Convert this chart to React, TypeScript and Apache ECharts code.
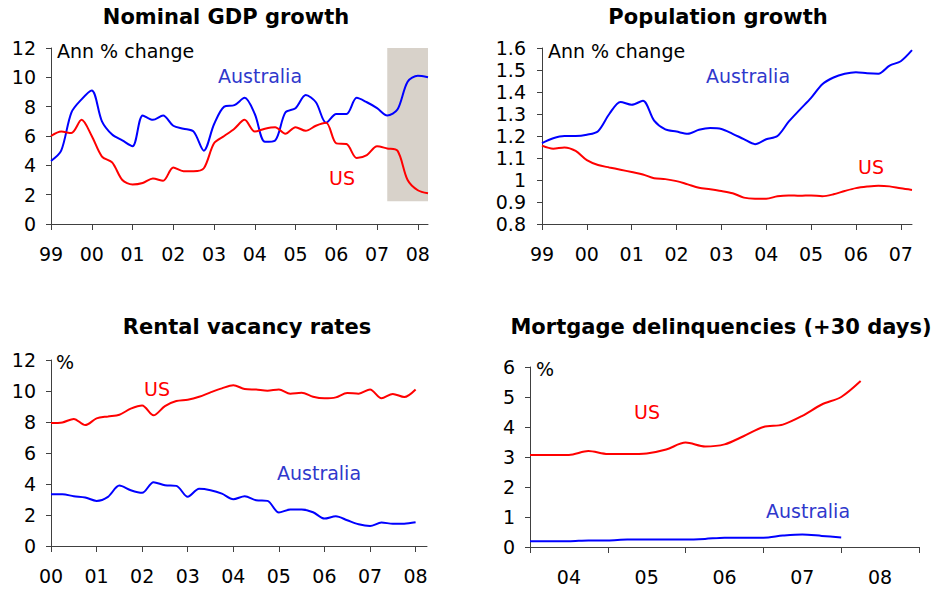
import React, { useEffect, useRef } from "react";
import * as echarts from "echarts";

function quarters(startYear: number, count: number): string[] {
  const out: string[] = [];
  for (let i = 0; i < count; i++) {
    out.push(`${startYear + Math.floor(i / 4)}Q${(i % 4) + 1}`);
  }
  return out;
}

// Categories (quarterly)
const gdpQuarters = quarters(1999, 38); // 1999Q1 .. 2008Q2
const popQuarters = quarters(1999, 34); // 1999Q1 .. 2007Q2
const rentQuarters = quarters(2000, 34); // 2000Q1 .. 2008Q2
const mortQuarters = quarters(2004, 21); // 2004Q1 .. 2009Q1

// Nominal GDP growth, ann % change
const gdpAustralia = [4.3, 5.0, 7.6, 8.5, 9.1, 7.0, 6.1, 5.7, 5.3, 7.4, 7.1, 7.4, 6.7, 6.5, 6.3, 5.0, 6.8, 8.0, 8.1, 8.6, 7.5, 5.6, 5.7, 7.6, 7.9, 8.8, 8.3, 6.9, 7.5, 7.5, 8.6, 8.3, 7.9, 7.4, 7.8, 9.7, 10.1, 10.0];
const gdpUS = [6.0, 6.3, 6.2, 7.1, 6.0, 4.6, 4.2, 3.0, 2.7, 2.8, 3.1, 2.95, 3.85, 3.6, 3.6, 3.8, 5.5, 6.0, 6.5, 7.1, 6.3, 6.5, 6.6, 6.15, 6.6, 6.35, 6.7, 6.9, 5.5, 5.45, 4.5, 4.7, 5.3, 5.15, 5.0, 3.0, 2.3, 2.1];

// Population growth, ann % change
const popAustralia = [1.168, 1.19, 1.2, 1.2, 1.206, 1.222, 1.3, 1.355, 1.342, 1.36, 1.27, 1.23, 1.22, 1.21, 1.228, 1.236, 1.232, 1.21, 1.186, 1.163, 1.185, 1.2, 1.265, 1.32, 1.373, 1.435, 1.466, 1.483, 1.49, 1.485, 1.483, 1.52, 1.54, 1.59];
const popUS = [1.156, 1.142, 1.148, 1.132, 1.09, 1.068, 1.057, 1.047, 1.036, 1.025, 1.008, 1.004, 0.995, 0.98, 0.965, 0.958, 0.95, 0.94, 0.92, 0.915, 0.915, 0.926, 0.93, 0.928, 0.93, 0.926, 0.935, 0.95, 0.963, 0.97, 0.974, 0.971, 0.962, 0.955];

// Rental vacancy rates, %
const rentUS = [7.93, 7.97, 8.2, 7.8, 8.23, 8.36, 8.47, 8.86, 9.07, 8.43, 9.03, 9.35, 9.44, 9.63, 9.91, 10.17, 10.37, 10.13, 10.09, 10.02, 10.1, 9.83, 9.89, 9.63, 9.53, 9.59, 9.87, 9.83, 10.1, 9.53, 9.81, 9.61, 10.1];
const rentAustralia = [3.34, 3.34, 3.21, 3.13, 2.91, 3.17, 3.9, 3.6, 3.43, 4.12, 3.92, 3.88, 3.17, 3.69, 3.6, 3.38, 3.02, 3.21, 2.95, 2.91, 2.16, 2.35, 2.35, 2.18, 1.77, 1.92, 1.66, 1.4, 1.29, 1.51, 1.44, 1.44, 1.53];

// Mortgage delinquencies (+30 days), %
const mortUS = [3.07, 3.07, 3.07, 3.2, 3.1, 3.1, 3.12, 3.25, 3.48, 3.35, 3.42, 3.7, 4.0, 4.08, 4.37, 4.75, 5.0, 5.53];
const mortAustralia = [0.19, 0.19, 0.19, 0.22, 0.22, 0.25, 0.25, 0.25, 0.25, 0.27, 0.31, 0.31, 0.31, 0.38, 0.42, 0.37, 0.32];

// Shaded region on GDP panel
const gdpShade = { from: "2007Q2", to: "2008Q2", low: 1.55, high: 12 };

const FONT = "DejaVu Sans";
const BLUE = "#0000ff";
const RED = "#ff0000";
const LABEL_BLUE = "#2f38cc";
const AXIS = "#404040";

export default function App() {
  const ref = useRef<HTMLDivElement>(null);

  useEffect(() => {
    if (!ref.current) return;
    const chart = echarts.init(ref.current, undefined, { renderer: "svg" });

    const xAxisBase = (idx: number, data: string[], labelMod: number) => ({
      type: "category" as const,
      gridIndex: idx,
      data,
      boundaryGap: false,
      axisLine: { show: true, lineStyle: { color: AXIS, width: 1 } },
      axisTick: {
        show: true,
        length: 6,
        lineStyle: { color: AXIS },
        interval: (i: number) => i % 4 === 0,
      },
      axisLabel: {
        interval: (i: number) => i % 4 === labelMod,
        formatter: (v: string) => v.slice(2, 4),
        fontSize: 19,
        fontFamily: FONT,
        color: "#000",
        margin: 20,
      },
      splitLine: { show: false },
    });

    const yAxisBase = (idx: number, min: number, max: number, interval: number, margin: number) => ({
      type: "value" as const,
      gridIndex: idx,
      min,
      max,
      interval,
      axisLine: { show: true, lineStyle: { color: AXIS, width: 1 } },
      axisTick: { show: true, length: 5, lineStyle: { color: AXIS } },
      axisLabel: { fontSize: 19, fontFamily: FONT, color: "#000", margin },
      splitLine: { show: false },
    });

    const line = (name: string, x: number, data: number[], color: string, extra: any = {}) => ({
      name,
      type: "line" as const,
      xAxisIndex: x,
      yAxisIndex: x,
      data,
      smooth: 0.3,
      showSymbol: false,
      symbol: "none",
      lineStyle: { color, width: 2 },
      itemStyle: { color },
      z: 3,
      ...extra,
    });

    const text = (x: number, y: number, t: string, color: string, extra: any = {}) => ({
      type: "text" as const,
      x,
      y,
      style: {
        text: t,
        fill: color,
        fontSize: 19,
        fontFamily: FONT,
        align: "left",
        verticalAlign: "middle",
        ...extra,
      },
      z: 10,
    });

    const title = (x: number, y: number, t: string) =>
      text(x, y, t, "#000", { fontWeight: "bold", fontSize: 21, align: "center" });

    chart.setOption({
      animation: false,
      backgroundColor: "#ffffff",
      grid: [
        { left: 51, top: 48, width: 377, height: 176 },
        { left: 542, top: 48, width: 370, height: 176 },
        { left: 51, top: 360, width: 376, height: 186 },
        { left: 530, top: 367, width: 389, height: 180 },
      ],
      xAxis: [
        xAxisBase(0, gdpQuarters, 0),
        xAxisBase(1, popQuarters, 0),
        xAxisBase(2, rentQuarters, 0),
        xAxisBase(3, mortQuarters, 2),
      ],
      yAxis: [
        yAxisBase(0, 0, 12, 2, 15),
        yAxisBase(1, 0.8, 1.6, 0.1, 16),
        yAxisBase(2, 0, 12, 2, 15),
        yAxisBase(3, 0, 6, 1, 15),
      ],
      series: [
        line("Australia GDP", 0, gdpAustralia, BLUE, {
          markArea: {
            silent: true,
            z: 1,
            itemStyle: { color: "#d8d2ca" },
            data: [[
              { xAxis: gdpShade.from, yAxis: gdpShade.low },
              { xAxis: gdpShade.to, yAxis: gdpShade.high },
            ]],
          },
        }),
        line("US GDP", 0, gdpUS, RED),
        line("Australia population", 1, popAustralia, BLUE),
        line("US population", 1, popUS, RED),
        line("US rental", 2, rentUS, RED),
        line("Australia rental", 2, rentAustralia, BLUE),
        line("US mortgage", 3, mortUS, RED),
        line("Australia mortgage", 3, mortAustralia, BLUE),
      ],
      graphic: [
        title(226, 17, "Nominal GDP growth"),
        title(718, 17, "Population growth"),
        title(247, 327, "Rental vacancy rates"),
        title(721, 327, "Mortgage delinquencies (+30 days)"),
        text(57, 51, "Ann % change", "#000"),
        text(218, 76, "Australia", LABEL_BLUE),
        text(329, 178, "US", RED),
        text(548, 51, "Ann % change", "#000"),
        text(706, 76, "Australia", LABEL_BLUE),
        text(858, 167, "US", RED),
        text(56, 362, "%", "#000"),
        text(144, 389, "US", RED),
        text(277, 473, "Australia", LABEL_BLUE),
        text(536, 369, "%", "#000"),
        text(634, 412, "US", RED),
        text(766, 511, "Australia", LABEL_BLUE),
      ],
    });

    return () => chart.dispose();
  }, []);

  return (
    <div
      ref={ref}
      style={{ position: "absolute", left: 0, top: 0, width: 947, height: 590 }}
    />
  );
}
